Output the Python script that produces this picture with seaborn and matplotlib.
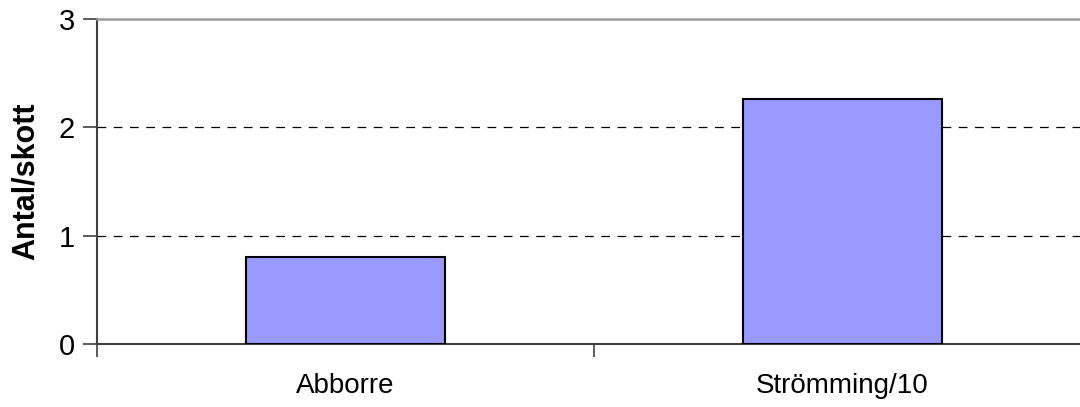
import matplotlib
matplotlib.use("Agg")
import matplotlib.pyplot as plt
import seaborn as sns
import pandas as pd

categories = ["Abborre", "Strömming/10"]
values = [0.80, 2.26]
y_ticks = [0, 1, 2, 3]

sns.set_style("white")
plt.rcParams["font.family"] = ["Liberation Sans", "DejaVu Sans"]
plt.rcParams["text.color"] = "black"
plt.rcParams["xtick.color"] = "black"
plt.rcParams["ytick.color"] = "black"
plt.rcParams["axes.labelcolor"] = "black"

df = pd.DataFrame({"art": categories, "antal": values})

fig = plt.figure(figsize=(10.8, 4.07), dpi=100)
ax = fig.add_axes([97 / 1080, 63 / 407, 994 / 1080, 325 / 407])

sns.barplot(data=df, x="art", y="antal", ax=ax, width=0.4,
            color="#9999FF", edgecolor="black", linewidth=1.5,
            saturation=1, zorder=3)

ax.set_ylim(0, 3)
ax.set_xlim(-0.5, len(categories) - 0.5)
ax.set_yticks(y_ticks)
ax.set_yticklabels([str(t) for t in y_ticks], fontsize=21)

# category boundaries carry the tick marks, centres carry the labels
ax.set_xticks([i - 0.5 for i in range(len(categories) + 1)])
ax.set_xticklabels([""] * (len(categories) + 1))
ax.set_xticks(range(len(categories)), minor=True)
ax.set_xticklabels(categories, minor=True, fontsize=20)
ax.tick_params(axis="x", which="minor", bottom=True, length=0, pad=21)
ax.tick_params(axis="x", which="major", bottom=True, length=9, width=1.2,
               color="#404040", direction="out")
ax.tick_params(axis="y", left=True, length=10, width=1.2, color="#404040",
               direction="out", pad=6)

for y in [1, 2]:
    ax.axhline(y, color="black", linestyle=(0, (7, 6)), linewidth=0.9, zorder=1)

ax.set_xlabel("")
ax.set_ylabel("Antal/skott", fontsize=22, fontweight="bold", labelpad=13)

for side in ["left", "bottom"]:
    ax.spines[side].set_color("#404040")
    ax.spines[side].set_linewidth(1.5)
ax.spines["top"].set_color("#999999")
ax.spines["top"].set_linewidth(1.8)
ax.spines["right"].set_visible(False)

fig.savefig("out.png", dpi=100)
